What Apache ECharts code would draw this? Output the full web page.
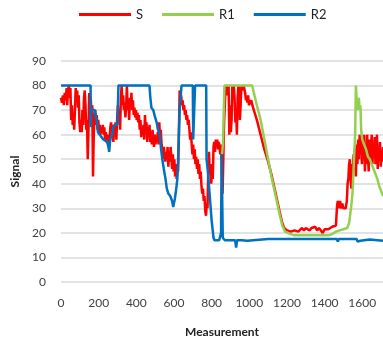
<!DOCTYPE html>
<html>
<head>
<meta charset="utf-8">
<script src="https://cdn.jsdelivr.net/npm/echarts@6/dist/echarts.min.js"></script>
<style>
  html, body { margin: 0; padding: 0; background: #fff; }
  #chart { width: 383px; height: 345px; }
</style>
</head>
<body>
<div id="chart"></div>
<script>
var seriesNames = ['S', 'R1', 'R2'];
var xTicks = [0, 200, 400, 600, 800, 1000, 1200, 1400, 1600];
var yTicks = [0, 10, 20, 30, 40, 50, 60, 70, 80, 90];

// [measurement, signal]
var sData = [
  [0,75],[5,73],[10,76],[15,72],[20,77],[25,74],[30,79],[33,72],[37,78],[42,80],[46,75],[50,79],
  [54,66],[58,72],[62,64],[66,69],[70,62],[74,70],[78,79],[82,74],[86,78],[90,71],[94,76],[98,65],
  [102,61],[106,66],[110,61],[114,70],[118,64],[122,75],[126,78],[130,72],[134,62],[138,66],[142,50],
  [146,62],[150,77],[154,72],[158,75],[162,68],[166,72],[170,43],[174,60],[178,67],[182,70],[186,64],
  [190,68],[194,62],[198,66],[202,61],[206,64],[210,60],[214,63],[218,61],[222,64],[226,60],[230,63],
  [234,58],[238,61],[242,57],[246,60],[250,56],[254,60],[258,58],[262,63],[266,65],[270,61],[274,64],
  [278,57],[282,62],[286,60],[290,65],[294,58],[298,66],[302,72],[306,65],[310,70],[314,62],[318,75],
  [322,80],[326,72],[330,76],[334,70],[338,73],[342,67],[346,72],[350,80],[354,70],[358,74],[362,66],
  [366,75],[370,71],[374,77],[378,70],[382,74],[386,68],[390,71],[394,67],[398,70],[402,66],[406,69],
  [410,65],[414,68],[418,62],[422,66],[426,59],[430,63],[434,60],[438,64],[442,58],[446,68],[450,62],
  [454,65],[458,57],[462,63],[466,59],[470,64],[474,57],[478,61],[482,56],[486,62],[490,58],[494,55],
  [498,60],[502,56],[506,59],[510,57],[514,61],[518,56],[522,65],[526,58],[530,62],[534,56],[538,54],
  [542,50],[546,55],[550,52],[554,49],[558,53],[562,50],[566,55],[570,47],[574,53],[578,49],[582,55],
  [586,51],[590,46],[594,52],[598,45],[602,50],[606,43],[610,48],[614,42],[618,47],[622,45],[626,60],
  [630,78],[634,74],[638,76],[642,72],[646,74],[650,70],[654,72],[658,68],[662,70],[666,66],[670,68],
  [674,64],[678,66],[682,62],[686,58],[690,61],[694,56],[698,52],[702,56],[706,50],[710,54],[714,48],
  [718,51],[722,46],[726,50],[730,44],[734,48],[738,42],[742,45],[746,39],[750,36],[754,38],[758,33],
  [762,35],[766,29],[770,27],[774,32],[778,30],[782,45],[786,53],[790,44],[794,48],[798,40],[802,45],
  [806,42],[810,55],[814,57],[818,53],[822,58],[826,55],[830,58],[834,54],[838,57],[842,55],[846,52],
  [850,56],[854,45],[858,36],[862,50],[866,65],[870,72],[874,80],[878,78],[882,80],[886,76],[890,80],
  [894,60],[898,72],[902,61],[906,66],[910,80],[914,76],[918,80],[922,74],[926,65],[930,70],[934,60],
  [938,75],[942,80],[946,78],[950,66],[954,72],[958,80],[962,80],[966,78],[970,80],[974,80],[978,77],
  [982,74],[986,76],[990,73],[994,76],[998,72],[1010,74],[1020,71],[1040,66],[1060,60],[1080,54],
  [1100,49],[1120,43],[1140,36],[1160,29],[1175,24],[1185,22],[1200,21],[1220,20.5],[1240,21],
  [1260,20.5],[1280,22],[1290,21],[1300,22],[1310,22.5],[1320,21],[1330,22],[1340,21.5],[1350,22.5],
  [1360,21],[1370,22],[1380,21],[1390,20],[1400,21.5],[1410,22],[1420,21.5],[1430,22],[1440,22.5],
  [1450,22],[1460,23],[1466,31],[1470,33],[1474,32],[1478,30],[1482,33],[1486,31],[1490,30],[1494,32],
  [1500,30],[1506,30.5],[1512,30],[1518,33],[1522,40],[1526,42],[1530,48],[1534,50],[1538,42],
  [1542,38],[1546,48],[1550,44],[1554,52],[1558,46],[1562,55],[1566,43],[1570,56],[1574,48],[1578,58],
  [1582,50],[1586,60],[1590,52],[1594,58],[1598,48],[1602,56],[1606,50],[1610,60],[1614,45],[1618,56],
  [1622,48],[1626,60],[1630,52],[1634,45],[1638,58],[1642,50],[1646,54],[1650,60],[1654,48],[1658,56],
  [1662,52],[1666,59],[1670,48],[1674,55],[1678,60],[1682,46],[1686,55],[1690,50],[1694,57],[1698,47],
  [1702,53],[1706,49],[1710,55]
];

var r1Data = [
  [855,52],[860,56],[868,80],[880,80],[920,80],[960,80],[1000,80],[1015,80],[1040,72],[1060,66],
  [1080,58],[1100,50],[1120,42],[1140,35],[1160,28],[1175,23],[1190,20.5],[1200,20],[1220,19.5],
  [1240,19],[1300,19],[1350,19],[1400,19],[1420,19],[1440,19.5],[1460,20.5],[1480,21],[1500,21.5],
  [1520,22],[1530,24],[1540,30],[1548,36],[1556,50],[1562,60],[1566,80],[1570,80],[1574,70],
  [1578,72],[1582,75],[1586,70],[1590,72],[1594,62],[1600,58],[1610,56],[1620,54],[1630,51],
  [1640,50],[1650,48],[1660,46],[1670,44],[1680,42],[1690,39],[1700,37],[1710,35]
];

var r2Data = [
  [0,80],[157,80],[158,63],[160,70],[170,70],[180,70],[185,67],[190,66],[196,61],[205,61],[215,59],
  [225,58],[235,57.5],[245,57],[252,55],[256,53],[260,57],[265,59],[272,60],[278,63],[285,64],
  [300,64],[305,80],[470,80],[474,75.5],[480,71],[490,70],[500,67],[508,65],[515,62],[525,60],
  [530,55],[538,50],[546,46],[555,42],[562,38],[570,36],[580,35],[590,33],[596,30.5],[600,31],
  [605,34],[612,38],[618,42],[622,50],[630,70],[640,80],[700,80],[702,58],[708,58],[712,80],
  [771,80],[773,50],[780,45],[790,35],[800,25],[810,18],[815,17],[840,17],[845,17.5],[850,20],
  [853,52],[857,52],[859,18],[870,17],[925,17],[930,14],[935,17],[960,17],[990,16.8],[1000,17.5],
  [1100,17.5],[1200,17.5],[1300,17.5],[1400,17.5],[1465,17.5],[1470,16.5],[1475,17.5],[1520,17.5],
  [1525,16.8],[1530,17.5],[1570,17.5],[1575,16.5],[1590,16.8],[1600,17.3],[1640,17.3],[1650,16.8],
  [1710,16.8]
];

var chart = echarts.init(document.getElementById('chart'), null, { renderer: 'canvas' });

var font = 'Lato, "Open Sans", sans-serif';

var option = {
  animation: false,
  textStyle: { fontFamily: font },
  legend: {
    data: seriesNames,
    left: 79,
    top: 8,
    padding: 0,
    itemWidth: 52,
    itemHeight: 3,
    itemGap: 19,
    icon: 'rect',
    textStyle: { fontSize: 13, color: '#222', fontFamily: font }
  },
  grid: { left: 61, right: 0, top: 61, bottom: 63 },
  xAxis: {
    type: 'value',
    min: 0,
    max: 1710,
    interval: 200,
    name: 'Measurement',
    nameLocation: 'middle',
    nameGap: 44,
    nameTextStyle: { fontWeight: 'bold', fontSize: 12, color: '#222', fontFamily: font },
    axisLine: { show: false },
    axisTick: { show: false },
    splitLine: { show: false },
    axisLabel: {
      margin: 15, fontSize: 12, color: '#404040', fontFamily: font,
      showMaxLabel: false,
      formatter: function (v) { return xTicks.indexOf(v) >= 0 ? String(v) : ''; }
    }
  },
  yAxis: {
    type: 'value',
    min: 0,
    max: 90,
    interval: 10,
    name: 'Signal',
    nameLocation: 'middle',
    nameGap: 38,
    nameTextStyle: { fontWeight: 'bold', fontSize: 12, color: '#222', fontFamily: font },
    axisLine: { show: false },
    axisTick: { show: false },
    splitLine: { lineStyle: { color: '#d9d9d9', width: 1.5 } },
    axisLabel: {
      margin: 15, fontSize: 12, color: '#404040', fontFamily: font,
      formatter: function (v) { return yTicks.indexOf(v) >= 0 ? String(v) : ''; }
    }
  },
  series: [
    {
      name: seriesNames[0], type: 'line', data: sData, showSymbol: false,
      lineStyle: { width: 2.5, color: '#ff0000' }, itemStyle: { color: '#ff0000' }
    },
    {
      name: seriesNames[1], type: 'line', data: r1Data, showSymbol: false,
      lineStyle: { width: 2.5, color: '#92d050' }, itemStyle: { color: '#92d050' }
    },
    {
      name: seriesNames[2], type: 'line', data: r2Data, showSymbol: false,
      lineStyle: { width: 2.5, color: '#0070c0' }, itemStyle: { color: '#0070c0' }
    }
  ]
};

chart.setOption(option);
window.addEventListener('resize', chart.resize);
</script>
</body>
</html>
